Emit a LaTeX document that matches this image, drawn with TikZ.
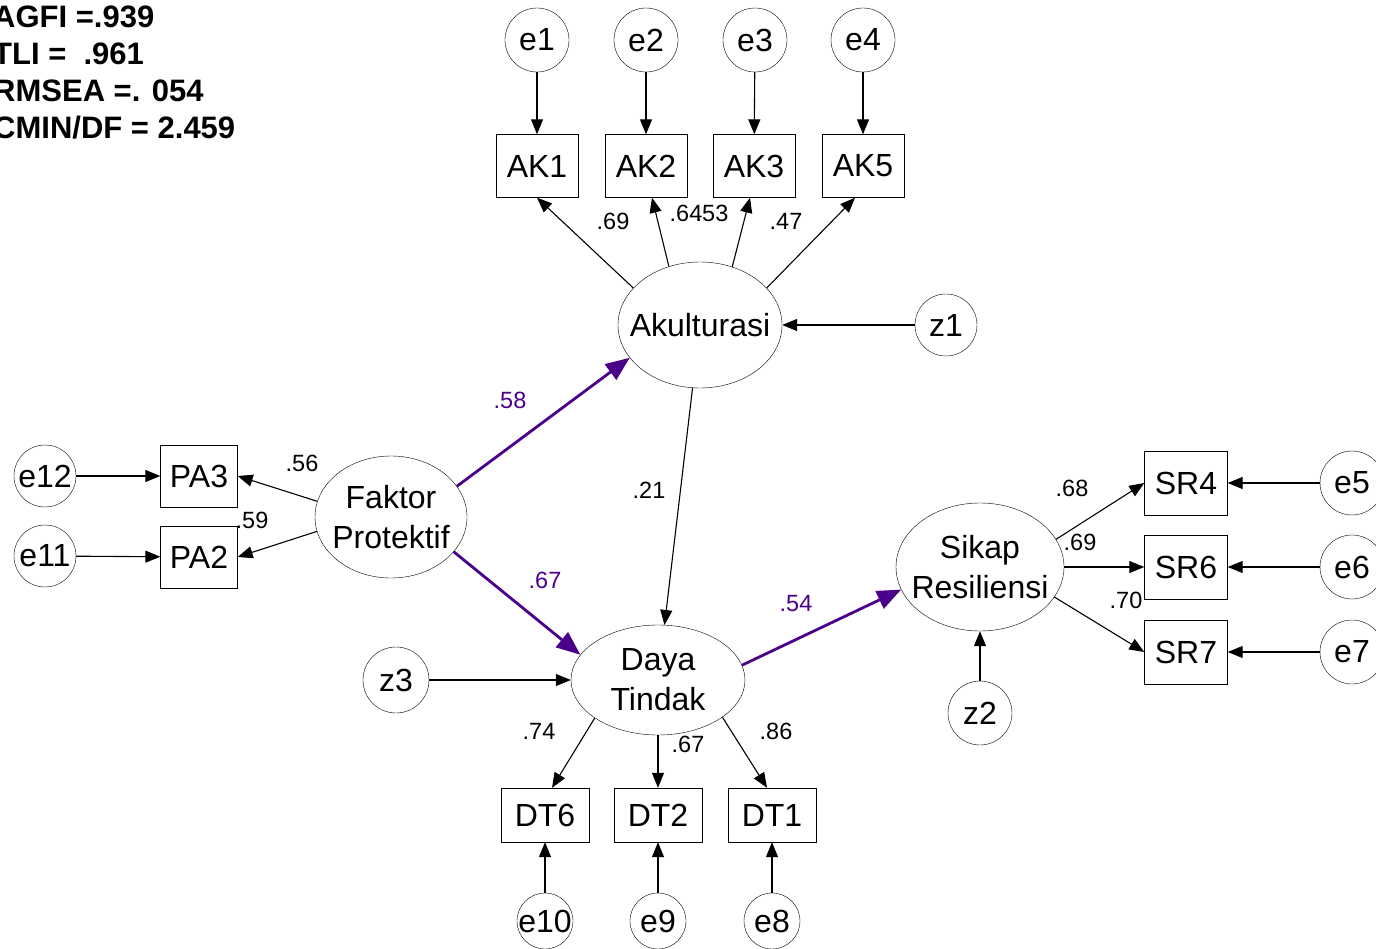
\documentclass[tikz,border=0pt]{standalone}
\usepackage{fontspec}
\setmainfont{Liberation Sans}
\usetikzlibrary{arrows.meta,shapes.geometric}
\definecolor{pathpurple}{RGB}{75,0,140}
\tikzset{
  obs/.style={draw, rectangle, minimum width=82pt, minimum height=63pt, inner sep=0pt, font=\fontsize{32}{36}\selectfont},
  err/.style={draw, circle, minimum size=64pt, inner sep=0pt, label={[font=\fontsize{32}{36}\selectfont]center:#1}},
  lat/.style={draw, ellipse, inner sep=0pt, label={[font=\fontsize{32}{40}\selectfont, align=center]center:#1}},
  reg/.style={-{Triangle[length=15pt,width=12pt]}, line width=1.1pt},
  keyreg/.style={-{Triangle[length=24pt,width=19pt]}, line width=2.8pt, pathpurple},
  coef/.style={font=\fontsize{23.5}{26}\selectfont, inner sep=0pt}
}
\begin{document}
\begin{tikzpicture}[x=1pt,y=-1pt]
  \useasboundingbox (0,0) rectangle (1376,949);

  \node[anchor=west, align=left, inner sep=0pt, font=\fontsize{31}{37}\selectfont\bfseries] (fit) at (-7,72)
    {AGFI =.939\\TLI = \ .961\\RMSEA =. 054\\CMIN/DF = 2.459};

  % latent variables
  \node[lat={Akulturasi}, minimum width=164pt, minimum height=126pt] (ak) at (700,325) {};
  \node[lat={Faktor\\Protektif}, minimum width=152pt, minimum height=122pt] (fp) at (391,517) {};
  \node[lat={Daya\\Tindak}, minimum width=174pt, minimum height=110pt] (dt) at (658,680) {};
  \node[lat={Sikap\\Resiliensi}, minimum width=168pt, minimum height=128pt] (sr) at (980,567) {};

  % indicators
  \node[obs] (ak1) at (537,166) {AK1};
  \node[obs] (ak2) at (646,166) {AK2};
  \node[obs] (ak3) at (754,166) {AK3};
  \node[obs] (ak5) at (863,166) {AK5};
  \node[obs, minimum width=77pt, minimum height=62pt] (pa3) at (199,476) {PA3};
  \node[obs, minimum width=77pt, minimum height=62pt] (pa2) at (199,557) {PA2};
  \node[obs, minimum width=88pt, minimum height=54pt] (dt6) at (545,815) {DT6};
  \node[obs, minimum width=88pt, minimum height=54pt] (dt2) at (658,815) {DT2};
  \node[obs, minimum width=88pt, minimum height=54pt] (dt1) at (772,815) {DT1};
  \node[obs, minimum width=83pt, minimum height=64pt] (sr4) at (1186,483) {SR4};
  \node[obs, minimum width=83pt, minimum height=64pt] (sr6) at (1186,567) {SR6};
  \node[obs, minimum width=83pt, minimum height=64pt] (sr7) at (1186,652) {SR7};

  % errors
  \node[err=e1] (e1) at (537,40) {};
  \node[err=e2] (e2) at (646,40) {};
  \node[err=e3] (e3) at (755,40) {};
  \node[err=e4] (e4) at (863,40) {};
  \node[err=z1, minimum size=62pt] (z1) at (946,325) {};
  \node[err=e12, minimum size=62pt] (e12) at (45,476) {};
  \node[err=e11, minimum size=62pt] (e11) at (45,556) {};
  \node[err=z3, minimum size=66pt] (z3) at (396,680) {};
  \node[err=z2] (z2) at (980,713) {};
  \node[err=e10, minimum size=56pt] (e10) at (545,921) {};
  \node[err=e9, minimum size=56pt] (e9) at (658,921) {};
  \node[err=e8, minimum size=56pt] (e8) at (772,921) {};
  \node[err=e5] (e5) at (1352,483) {};
  \node[err=e6] (e6) at (1352,567) {};
  \node[err=e7] (e7) at (1352,652) {};

  % paths
  \draw[reg] (e1) -- (ak1);
  \draw[reg] (e2) -- (ak2);
  \draw[reg] (e3) -- (ak3);
  \draw[reg] (e4) -- (ak5);
  \draw[reg] (ak.151) -- (ak1.south);
  \draw[reg] (ak.118) -- ([xshift=6pt]ak2.south);
  \draw[reg] (ak.61) -- ([xshift=-4pt]ak3.south);
  \draw[reg] (ak.29) -- ([xshift=-8pt]ak5.south);
  \draw[reg] (z1) -- (ak);
  \draw[reg] (ak) -- (dt);
  \draw[keyreg] (fp.25) -- (ak.205);
  \draw[keyreg] (fp.-29) -- (dt.162);
  \draw[keyreg] (dt.10) -- (sr.196);
  \draw[reg] (fp.168) -- (pa3.east);
  \draw[reg] (fp.191) -- (pa2.east);
  \draw[reg] (e12) -- (pa3);
  \draw[reg] (e11) -- (pa2);
  \draw[reg] (z3) -- (dt);
  \draw[reg] (dt.211) -- ([xshift=7pt]dt6.north);
  \draw[reg] (dt) -- (dt2);
  \draw[reg] (dt.-30) -- ([xshift=-5pt]dt1.north);
  \draw[reg] (e10) -- (dt6);
  \draw[reg] (e9) -- (dt2);
  \draw[reg] (e8) -- (dt1);
  \draw[reg] (z2) -- (sr);
  \draw[reg] (sr.20) -- (sr4.west);
  \draw[reg] (sr) -- (sr6);
  \draw[reg] (sr.-22) -- (sr7.west);
  \draw[reg] (e5) -- (sr4);
  \draw[reg] (e6) -- (sr6);
  \draw[reg] (e7) -- (sr7);

  % estimates
  \node[coef] (c-ak1) at (613,221) {.69};
  \node[coef] (c-ak2) at (686,213) {.64};
  \node[coef] (c-ak3) at (712,213) {.53};
  \node[coef] (c-ak5) at (786,221) {.47};
  \node[coef, pathpurple] (c-fpak) at (510,400) {.58};
  \node[coef] (c-pa3) at (302,463) {.56};
  \node[coef] (c-pa2) at (252,520) {.59};
  \node[coef] (c-akdt) at (649,490) {.21};
  \node[coef, pathpurple] (c-fpdt) at (545,580) {.67};
  \node[coef, pathpurple] (c-dtsr) at (796,604) {.54};
  \node[coef] (c-sr4) at (1072,488) {.68};
  \node[coef] (c-sr6) at (1080,542) {.69};
  \node[coef] (c-sr7) at (1126,600) {.70};
  \node[coef] (c-dt6) at (539,731) {.74};
  \node[coef] (c-dt2) at (688,744) {.67};
  \node[coef] (c-dt1) at (776,731) {.86};
\end{tikzpicture}
\end{document}
